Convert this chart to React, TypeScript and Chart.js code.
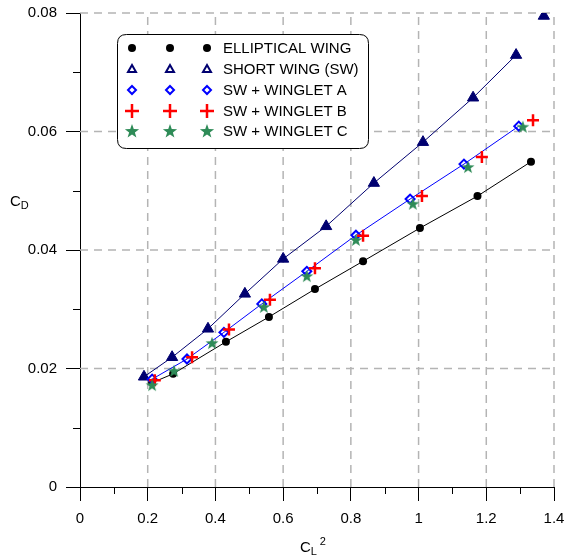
import React, { useEffect, useRef } from 'react';
import { Chart, registerables } from 'chart.js';

Chart.register(...registerables);

// ---- data ----
const xTickValues = [0, 0.2, 0.4, 0.6, 0.8, 1, 1.2, 1.4];
const xTickLabels = ['0', '0.2', '0.4', '0.6', '0.8', '1', '1.2', '1.4'];
const yTickValues = [0, 0.02, 0.04, 0.06, 0.08];
const yTickLabels = ['0', '0.02', '0.04', '0.06', '0.08'];
const xMinorValues = [0.1, 0.3, 0.5, 0.7, 0.9, 1.1, 1.3];
const yMinorValues = [0.01, 0.03, 0.05, 0.07];

const seriesNames = [
  'ELLIPTICAL WING',
  'SHORT WING (SW)',
  'SW + WINGLET A',
  'SW + WINGLET B',
  'SW + WINGLET C',
];

const ellipticalX = [0.213, 0.275, 0.431, 0.558, 0.694, 0.836, 1.004, 1.174, 1.332];
const ellipticalY = [0.0176, 0.0191, 0.0245, 0.0287, 0.0334, 0.0381, 0.0437, 0.0491, 0.0549];

const shortWingX = [0.189, 0.272, 0.378, 0.487, 0.6, 0.727, 0.868, 1.013, 1.161, 1.288, 1.37];
const shortWingY = [0.0186, 0.0219, 0.0267, 0.0326, 0.0385, 0.044, 0.0513, 0.0582, 0.0657, 0.0729, 0.0795];

const wingletAX = [0.213, 0.316, 0.425, 0.537, 0.67, 0.815, 0.975, 1.134, 1.296];
const wingletAY = [0.0182, 0.0216, 0.0261, 0.0309, 0.0364, 0.0425, 0.0486, 0.0545, 0.0609];

const wingletBX = [0.221, 0.331, 0.44, 0.561, 0.694, 0.836, 1.01, 1.187, 1.338];
const wingletBY = [0.018, 0.0219, 0.0266, 0.0316, 0.0369, 0.0424, 0.0491, 0.0557, 0.0619];

const wingletCX = [0.213, 0.278, 0.39, 0.543, 0.67, 0.815, 0.983, 1.146, 1.308];
const wingletCY = [0.0172, 0.0196, 0.0243, 0.0304, 0.0356, 0.0417, 0.0478, 0.054, 0.0608];

// ---- styles ----
const FONT_FAMILY = 'Arial, "Liberation Sans", sans-serif';
const NAVY = '#000070';
const BLUE = '#0000ff';
const RED = '#ff0000';
const GREEN = '#2e8b57';

const pts = (xs: number[], ys: number[]) => xs.map((x, i) => ({ x, y: ys[i] }));

function starPath(ctx: CanvasRenderingContext2D, cx: number, cy: number, R: number, r: number) {
  ctx.beginPath();
  for (let i = 0; i < 10; i++) {
    const ang = -Math.PI / 2 + (i * Math.PI) / 5;
    const rad = i % 2 === 0 ? R : r;
    const px = cx + rad * Math.cos(ang);
    const py = cy + rad * Math.sin(ang);
    if (i === 0) ctx.moveTo(px, py);
    else ctx.lineTo(px, py);
  }
  ctx.closePath();
}

function makeStarCanvas(size: number, R: number, color: string) {
  const c = document.createElement('canvas');
  c.width = size;
  c.height = size;
  const cx = c.getContext('2d')!;
  cx.fillStyle = color;
  starPath(cx, size / 2, size / 2 + 0.5, R, R * 0.4);
  cx.fill();
  return c;
}

function drawLegendMarker(ctx: CanvasRenderingContext2D, kind: number, x: number, y: number) {
  ctx.save();
  ctx.setLineDash([]);
  if (kind === 0) {
    ctx.fillStyle = '#000';
    ctx.beginPath();
    ctx.arc(x, y, 4, 0, Math.PI * 2);
    ctx.fill();
  } else if (kind === 1) {
    ctx.strokeStyle = NAVY;
    ctx.lineWidth = 2;
    ctx.beginPath();
    ctx.moveTo(x, y - 4);
    ctx.lineTo(x + 4, y + 3);
    ctx.lineTo(x - 4, y + 3);
    ctx.closePath();
    ctx.stroke();
  } else if (kind === 2) {
    ctx.strokeStyle = BLUE;
    ctx.lineWidth = 2;
    ctx.beginPath();
    ctx.moveTo(x, y - 4);
    ctx.lineTo(x + 4, y);
    ctx.lineTo(x, y + 4);
    ctx.lineTo(x - 4, y);
    ctx.closePath();
    ctx.stroke();
  } else if (kind === 3) {
    ctx.strokeStyle = RED;
    ctx.lineWidth = 2.5;
    ctx.beginPath();
    ctx.moveTo(x - 7, y);
    ctx.lineTo(x + 7, y);
    ctx.moveTo(x, y - 7);
    ctx.lineTo(x, y + 7);
    ctx.stroke();
  } else {
    ctx.fillStyle = GREEN;
    starPath(ctx, x, y + 0.5, 7.5, 3);
    ctx.fill();
  }
  ctx.restore();
}

const customPlugin = {
  id: 'customDecor',
  beforeDatasetsDraw(chart: any) {
    const { ctx, chartArea: a, scales } = chart;
    const x = scales.x;
    const y = scales.y;
    ctx.save();
    // dashed grid
    ctx.strokeStyle = '#b4b4b4';
    ctx.lineWidth = 1.5;
    ctx.setLineDash([8, 6]);
    for (const v of xTickValues) {
      if (v === 0) continue;
      const px = x.getPixelForValue(v);
      ctx.beginPath();
      ctx.moveTo(px, a.bottom);
      ctx.lineTo(px, a.top);
      ctx.stroke();
    }
    for (const v of yTickValues) {
      if (v === 0) continue;
      const py = y.getPixelForValue(v);
      ctx.beginPath();
      ctx.moveTo(a.left, py);
      ctx.lineTo(a.right, py);
      ctx.stroke();
    }
    // minor ticks
    ctx.setLineDash([]);
    ctx.strokeStyle = '#000';
    ctx.lineWidth = 1;
    for (const v of xMinorValues) {
      const px = Math.round(x.getPixelForValue(v)) + 0.5;
      ctx.beginPath();
      ctx.moveTo(px, a.bottom);
      ctx.lineTo(px, a.bottom + 7);
      ctx.stroke();
    }
    for (const v of yMinorValues) {
      const py = Math.round(y.getPixelForValue(v)) + 0.5;
      ctx.beginPath();
      ctx.moveTo(a.left - 7, py);
      ctx.lineTo(a.left, py);
      ctx.stroke();
    }
    ctx.restore();
  },
  afterDraw(chart: any) {
    const { ctx } = chart;
    ctx.save();
    // axis titles
    ctx.fillStyle = '#000';
    ctx.textAlign = 'left';
    ctx.textBaseline = 'alphabetic';
    ctx.font = `15px ${FONT_FAMILY}`;
    ctx.fillText('C', 10, 206);
    const cw = ctx.measureText('C').width;
    ctx.font = `11px ${FONT_FAMILY}`;
    ctx.fillText('D', 10 + cw, 209);

    ctx.font = `15px ${FONT_FAMILY}`;
    ctx.fillText('C', 300, 552);
    const cw2 = ctx.measureText('C').width;
    ctx.font = `11px ${FONT_FAMILY}`;
    ctx.fillText('L', 300 + cw2, 555);
    ctx.fillText('2', 300 + cw2 + 9, 545);

    // legend box
    const bx = 117.5, by = 34.5, bw = 251, bh = 114, r = 9;
    ctx.beginPath();
    ctx.moveTo(bx + r, by);
    ctx.lineTo(bx + bw - r, by);
    ctx.quadraticCurveTo(bx + bw, by, bx + bw, by + r);
    ctx.lineTo(bx + bw, by + bh - r);
    ctx.quadraticCurveTo(bx + bw, by + bh, bx + bw - r, by + bh);
    ctx.lineTo(bx + r, by + bh);
    ctx.quadraticCurveTo(bx, by + bh, bx, by + bh - r);
    ctx.lineTo(bx, by + r);
    ctx.quadraticCurveTo(bx, by, bx + r, by);
    ctx.closePath();
    ctx.fillStyle = '#fff';
    ctx.fill();
    ctx.strokeStyle = '#000';
    ctx.lineWidth = 1;
    ctx.stroke();

    const rows = [48, 69, 90, 111, 131];
    const mx = [132, 170, 207];
    ctx.font = `15px ${FONT_FAMILY}`;
    ctx.textBaseline = 'middle';
    seriesNames.forEach((name, i) => {
      for (const m of mx) drawLegendMarker(ctx, i, m, rows[i]);
      ctx.fillStyle = '#000';
      ctx.fillText(name, 223, rows[i] + 1);
    });
    ctx.restore();
  },
};

export default function App() {
  const ref = useRef<HTMLCanvasElement | null>(null);
  useEffect(() => {
    if (!ref.current) return;
    const starImg = makeStarCanvas(14, 6.8, GREEN);
    const chart = new Chart(ref.current, {
      type: 'scatter',
      data: {
        datasets: [
          {
            label: 'fitE',
            data: pts(ellipticalX, ellipticalY),
            showLine: true,
            pointRadius: 0,
            borderColor: '#000',
            borderWidth: 1,
            fill: false,
            order: 10,
          },
          {
            label: 'fitSW',
            data: pts(shortWingX.slice(0, -1), shortWingY.slice(0, -1)),
            showLine: true,
            pointRadius: 0,
            borderColor: NAVY,
            borderWidth: 1,
            fill: false,
            order: 10,
          },
          {
            label: 'fitA',
            data: pts(wingletAX, wingletAY),
            showLine: true,
            pointRadius: 0,
            borderColor: BLUE,
            borderWidth: 1,
            fill: false,
            order: 10,
          },
          {
            label: seriesNames[0],
            data: pts(ellipticalX, ellipticalY),
            pointStyle: 'circle',
            pointRadius: 4,
            backgroundColor: '#000',
            borderColor: '#000',
            borderWidth: 0,
            order: 5,
          },
          {
            label: seriesNames[1],
            data: pts(shortWingX, shortWingY),
            pointStyle: 'triangle',
            pointRadius: 6.5,
            backgroundColor: NAVY,
            borderColor: NAVY,
            borderWidth: 1,
            order: 4,
          },
          {
            label: seriesNames[2],
            data: pts(wingletAX, wingletAY),
            pointStyle: 'rectRot',
            pointRadius: 4.5,
            backgroundColor: 'rgba(255,255,255,0)',
            borderColor: BLUE,
            borderWidth: 2,
            order: 3,
          },
          {
            label: seriesNames[3],
            data: pts(wingletBX, wingletBY),
            pointStyle: 'cross',
            pointRadius: 6,
            backgroundColor: RED,
            borderColor: RED,
            borderWidth: 2.5,
            order: 2,
          },
          {
            label: seriesNames[4],
            data: pts(wingletCX, wingletCY),
            pointStyle: starImg as any,
            pointRadius: 6,
            backgroundColor: GREEN,
            borderColor: GREEN,
            order: 1,
          },
        ] as any,
      },
      options: {
        animation: false,
        responsive: false,
        devicePixelRatio: 1,
        events: [],
        layout: { padding: { left: 0, right: 12, top: 13, bottom: 0 } },
        plugins: { legend: { display: false }, tooltip: { enabled: false } },
        scales: {
          x: {
            type: 'linear',
            position: 'bottom',
            min: 0,
            max: 1.4,
            afterBuildTicks: (s: any) => {
              s.ticks = xTickValues.map((v) => ({ value: v }));
            },
            afterFit: (s: any) => {
              s.height = 72;
              s.paddingLeft = 0;
              s.paddingRight = 0;
            },
            ticks: {
              autoSkip: false,
              maxRotation: 0,
              padding: 9,
              color: '#000',
              font: { family: FONT_FAMILY, size: 15 },
              callback: (_v: any, i: number) => xTickLabels[i],
            },
            grid: {
              drawOnChartArea: false,
              drawTicks: true,
              tickLength: 14,
              tickColor: '#000',
              color: '#000',
              lineWidth: 1,
            },
            border: { display: true, color: '#000', width: 1 },
          },
          y: {
            type: 'linear',
            position: 'left',
            min: 0,
            max: 0.08,
            afterBuildTicks: (s: any) => {
              s.ticks = yTickValues.map((v) => ({ value: v }));
            },
            afterFit: (s: any) => {
              s.width = 80;
              s.paddingTop = 0;
              s.paddingBottom = 0;
            },
            ticks: {
              autoSkip: false,
              padding: 9,
              color: '#000',
              font: { family: FONT_FAMILY, size: 15 },
              callback: (_v: any, i: number) => yTickLabels[i],
            },
            grid: {
              drawOnChartArea: false,
              drawTicks: true,
              tickLength: 14,
              tickColor: '#000',
              color: '#000',
              lineWidth: 1,
            },
            border: { display: true, color: '#000', width: 1 },
          },
        },
      } as any,
      plugins: [customPlugin],
    });
    return () => chart.destroy();
  }, []);

  return (
    <div style={{ position: 'absolute', left: 0, top: 0, width: 566, height: 559, background: '#fff' }}>
      <canvas ref={ref} width={566} height={559} style={{ width: 566, height: 559, display: 'block' }} />
    </div>
  );
}
